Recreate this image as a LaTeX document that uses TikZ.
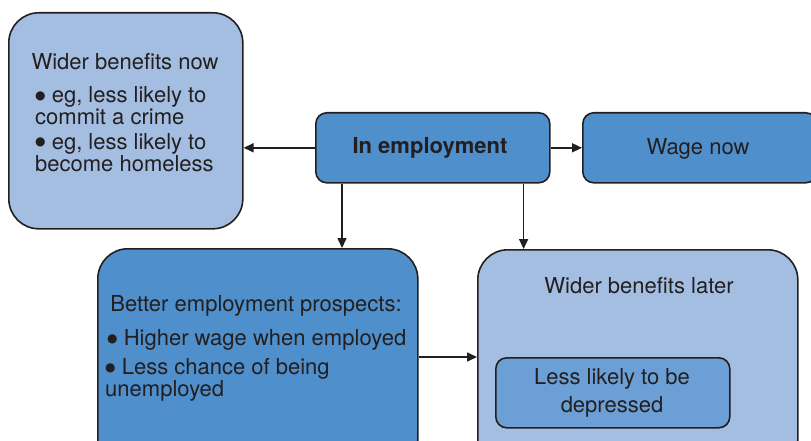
\documentclass[tikz,border=0pt]{standalone}
\usepackage{fontspec}
\setmainfont{TeX Gyre Heros}
\newfontfamily\dejavu{DejaVu Sans}
\newcommand\bul{\raisebox{3.5pt}{\dejavu\fontsize{12}{12}\selectfont ●}}
\usetikzlibrary{arrows.meta,calc}
\definecolor{lightbox}{HTML}{A4BEE2}
\definecolor{midbox}{HTML}{4F8FCC}
\definecolor{innerbox}{HTML}{6C9FD5}
\definecolor{ink}{HTML}{231F20}
\tikzset{
  box/.style={draw=ink, line width=1.6pt, inner sep=0pt, anchor=north west},
  bigbox/.style={box, rounded corners=30pt},
  smallbox/.style={box, rounded corners=11pt},
  txt/.style={text=ink, inner sep=0pt, font=\fontsize{22}{22}\selectfont},
  arr/.style={draw=ink, line width=1.6pt, -{Triangle[length=10pt,width=9pt]}}
}
\begin{document}
\begin{tikzpicture}[x=1pt,y=-1pt]
\clip (0,0) rectangle (811,441);
\fill[white] (0,0) rectangle (811,441);
% boxes
\node[bigbox, fill=lightbox, minimum width=234pt, minimum height=216pt] (A) at (8,12) {};
\node[smallbox, fill=midbox, minimum width=234pt, minimum height=70pt] (B) at (315,112) {};
\node[smallbox, fill=midbox, minimum width=234pt, minimum height=70pt] (C) at (582,112) {};
\node[bigbox, fill=midbox, minimum width=320pt, minimum height=220pt] (D) at (97,248) {};
\node[bigbox, fill=lightbox, minimum width=320pt, minimum height=220pt] (E) at (477,249) {};
\node[smallbox, fill=innerbox, minimum width=234pt, minimum height=70pt] (F) at (495,357) {};
% texts
\node[txt] (tA) at (125,62) {Wider benefits now};
\node[txt, anchor=west, align=left] (tA1) at (35,106) {\bul\ eg, less likely to\\commit a crime};
\node[txt, anchor=west, align=left] (tA2) at (35,152.5) {\bul\ eg, less likely to\\become homeless};
\node[txt, font=\fontsize{22}{22}\selectfont\bfseries] (tB) at (430,148) {In employment};
\node[txt] (tC) at (698,149) {Wage now};
\node[txt] (tD) at (256,306) {Better employment prospects:};
\node[txt, anchor=west] (tD1) at (107,340) {\bul\ Higher wage when employed};
\node[txt, anchor=west, align=left] (tD2) at (105,380) {\bul\ Less chance of being\\unemployed};
\node[txt] (tE) at (639,286) {Wider benefits later};
\node[txt, align=center, font=\fontsize{22}{28}\selectfont] (tF) at (612,393) {Less likely to be\\depressed};
% connectors
\draw[arr] (B.west) -- (B.west -| A.east);
\draw[arr] (B.east) -- (C.west);
\draw[arr] ([xshift=27pt]B.south west) -- ([xshift=27pt]B.south west |- D.north);
\draw[arr] ([xshift=-27pt]B.south east) -- ([xshift=-27pt]B.south east |- E.north);
\draw[arr] (D.east |- F.north) -- (E.west |- F.north);
\end{tikzpicture}
\end{document}
